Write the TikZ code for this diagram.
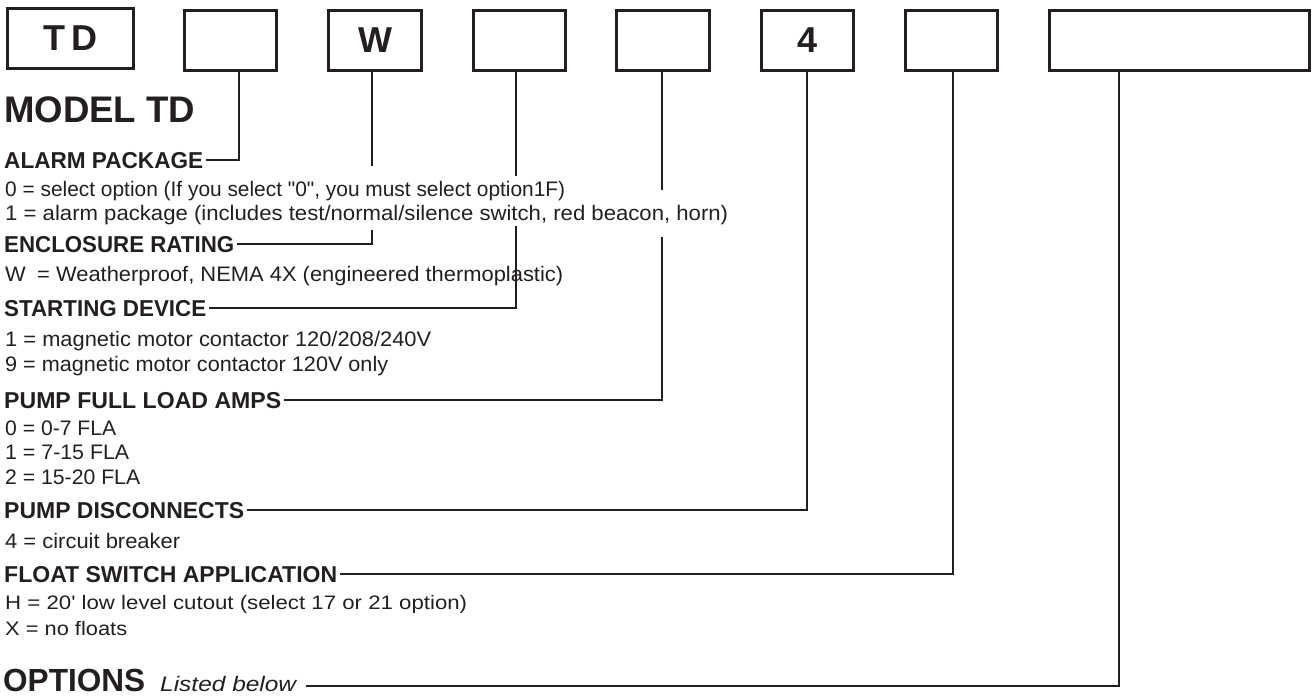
\documentclass[tikz,border=0pt]{standalone}
\usepackage{fontspec}
\setmainfont{Liberation Sans}[Ligatures=TeXOff]
\usepackage{graphicx}
\definecolor{ink}{HTML}{231F20}
\newcommand{\fitw}[2]{\resizebox{#1pt}{\height}{#2}}
\begin{document}
\begin{tikzpicture}[x=1pt,y=-1pt,
  box/.style={draw=ink, line width=2.6pt, inner sep=0pt, anchor=north west, text=ink,
              font=\fontsize{36}{40}\selectfont\bfseries},
  conn/.style={draw=ink, line width=2.2pt},
  hdr/.style={anchor=base west, inner sep=0pt, text=ink, font=\fontsize{23}{26}\selectfont\bfseries},
  txt/.style={anchor=base west, inner sep=0pt, text=ink, font=\fontsize{21}{24}\selectfont},
  ftxt/.style={anchor=base west, inner sep=0pt, text=ink, font=\fontsize{19.5}{23}\selectfont}]
\useasboundingbox (0,0) rectangle (1314,696);
% code boxes
\node[box, minimum width=126pt, minimum height=60pt] (b1) at (6.3,7.3) {T\hspace{6pt}D};
\node[box, minimum width=92pt, minimum height=60pt] (b2) at (183.3,9.3) {};
\node[box, minimum width=93pt, minimum height=60pt] (b3) at (327.3,9.3) {W};
\node[box, minimum width=92pt, minimum height=60pt] (b4) at (472.3,9.3) {};
\node[box, minimum width=93pt, minimum height=60pt] (b5) at (615.3,9.3) {};
\node[box, minimum width=92pt, minimum height=60pt] (b6) at (760.3,9.3) {4};
\node[box, minimum width=92pt, minimum height=60pt] (b7) at (904.3,9.3) {};
\node[box, minimum width=260pt, minimum height=60pt] (b8) at (1048.3,9.3) {};
% connector columns
\coordinate (x2) at (239,0);
\coordinate (x3) at (372,0);
\coordinate (x4) at (516,0);
\coordinate (x5) at (662,0);
\coordinate (x6) at (807,0);
\coordinate (x7) at (953,0);
\coordinate (x8) at (1119,0);
% title
\node[anchor=base west, inner sep=0pt, text=ink, font=\fontsize{37}{40}\selectfont\bfseries] (title) at (4,122) {\fitw{191}{MODEL TD}};
% headers
\node[hdr] (h1) at (4,168) {\fitw{199}{ALARM PACKAGE}};
\node[hdr] (h2) at (4,252) {\fitw{230}{ENCLOSURE RATING}};
\node[hdr] (h3) at (4,316) {\fitw{202}{STARTING DEVICE}};
\node[hdr] (h4) at (4,408) {\fitw{277}{PUMP FULL LOAD AMPS}};
\node[hdr] (h5) at (4,518) {\fitw{240}{PUMP DISCONNECTS}};
\node[hdr] (h6) at (4,582) {\fitw{333}{FLOAT SWITCH APPLICATION}};
\node[anchor=base west, inner sep=0pt, text=ink, font=\fontsize{32}{36}\selectfont\bfseries] (h7) at (3,691) {\fitw{142}{OPTIONS}};
\node[anchor=base west, inner sep=0pt, text=ink, font=\fontsize{21}{24}\selectfont\itshape] (lb) at (160,691) {\fitw{136}{Listed below}};
% option lines
\node[txt] (t01) at (5,196) {\fitw{560}{0 = select option (If you select "0", you must select option1F)}};
\node[txt] (t02) at (5,220) {\fitw{723}{1 = alarm package (includes test/normal/silence switch, red beacon, horn)}};
\node[txt] (t03) at (5,281) {\fitw{558}{W\hspace{5pt} = Weatherproof, NEMA 4X (engineered thermoplastic)}};
\node[txt] (t04) at (5,346) {\fitw{426}{1 = magnetic motor contactor 120/208/240V}};
\node[txt] (t05) at (5,371) {\fitw{383}{9 = magnetic motor contactor 120V only}};
\node[txt] (t06) at (5,435) {\fitw{111}{0 = 0-7 FLA}};
\node[txt] (t07) at (5,459) {\fitw{124}{1 = 7-15 FLA}};
\node[txt] (t08) at (5,484) {\fitw{135}{2 = 15-20 FLA}};
\node[txt] (t09) at (5,548) {\fitw{175}{4 = circuit breaker}};
\node[ftxt] (t10) at (5,609) {\fitw{462}{H = 20' low level cutout (select 17 or 21 option)}};
\node[ftxt] (t11) at (5,635) {\fitw{122}{X = no floats}};
% gap points
\coordinate (g3a) at (372,166);
\coordinate (g3b) at (372,230);
\coordinate (g4a) at (516,176);
\coordinate (g4b) at (516,226);
\coordinate (g5a) at (662,190);
\coordinate (g5b) at (662,237);
\coordinate (oe) at (306,686);
% connectors
\draw[conn] (b2.south -| x2) |- ([xshift=3pt]h1.east);
\draw[conn] (b3.south -| x3) -- (g3a);
\draw[conn] (g3b) |- ([xshift=3pt]h2.east);
\draw[conn] (b4.south -| x4) -- (g4a);
\draw[conn] (g4b) |- ([xshift=3pt]h3.east);
\draw[conn] (b5.south -| x5) -- (g5a);
\draw[conn] (g5b) |- ([xshift=3pt]h4.east);
\draw[conn] (b6.south -| x6) |- ([xshift=3pt]h5.east);
\draw[conn] (b7.south -| x7) |- ([xshift=3pt]h6.east);
\draw[conn] (b8.south -| x8) |- (oe);
\end{tikzpicture}
\end{document}
